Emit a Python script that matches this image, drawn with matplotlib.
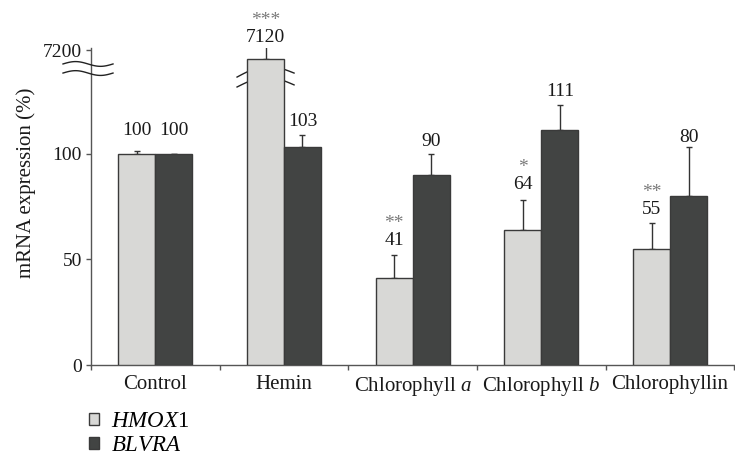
import numpy as np
import matplotlib
matplotlib.use("Agg")
import matplotlib.pyplot as plt
import matplotlib.transforms as mtransforms

plt.rcParams['font.family'] = ['Liberation Serif', 'DejaVu Serif']
plt.rcParams['mathtext.fontset'] = 'custom'
plt.rcParams['mathtext.rm'] = 'Liberation Serif'
plt.rcParams['mathtext.it'] = 'Liberation Serif:italic'

# data
groups = ["Control", "Hemin", "Chlorophyll $a$", "Chlorophyll $b$", "Chlorophyllin"]
hmox1 = [100, 7120, 41, 64, 55]
hmox1_err = [1.2, 115, 11, 14, 12]
blvra = [100, 103, 90, 111, 80]
blvra_err = [0, 6, 10, 12, 23]
stars = ["", "***", "**", "*", "**"]
yticks = [0, 50, 100, 7200]

# broken y axis: linear up to 130, squashed gap, then 7036.. on top
K = 0.055
LO, HI, FTOP = 130.0, 140.0, 149.0
V_HI = 7200 - (FTOP - HI) / K


def forward(v):
    v = np.asarray(v, dtype=float)
    mid = LO + (v - LO) * (HI - LO) / (V_HI - LO)
    hi = HI + (v - V_HI) * K
    return np.where(v <= LO, v, np.where(v <= V_HI, mid, hi))


def inverse(f):
    f = np.asarray(f, dtype=float)
    mid = LO + (f - LO) * (V_HI - LO) / (HI - LO)
    hi = V_HI + (f - HI) / K
    return np.where(f <= LO, f, np.where(f <= HI, mid, hi))


light = '#d8d8d6'
dark = '#424443'
edge = '#3a3a3a'
axcol = '#555555'

fig = plt.figure(figsize=(7.35, 4.57), dpi=100)
ax = fig.add_axes([91 / 735, 92 / 457, 643.4 / 735, 317 / 457])
ax.set_yscale('function', functions=(forward, inverse))

x = np.arange(len(groups))
w = 0.287
b1 = ax.bar(x - w / 2, hmox1, w, color=light, edgecolor=edge, linewidth=1.0,
            label='$\\mathit{HMOX}$1', zorder=3)
b2 = ax.bar(x + w / 2, blvra, w, color=dark, edgecolor=edge, linewidth=1.0,
            label='$\\mathit{BLVRA}$', zorder=3)

z = np.zeros(len(groups))
ax.errorbar(x - w / 2, hmox1, yerr=[z, hmox1_err], fmt='none', ecolor='#333333',
            elinewidth=1.0, capsize=2.2, capthick=1.0, zorder=2)
ax.errorbar(x + w / 2, blvra, yerr=[z, blvra_err], fmt='none', ecolor='#333333',
            elinewidth=1.0, capsize=2.2, capthick=1.0, zorder=2)

ax.set_xlim(-0.5, 4.5)
ax.set_ylim(0, float(inverse(149.95)))

# value labels + significance stars (gap in px above error bar top)
gaps1 = [16, 5, 10, 11, 9]
gaps2 = [19, 9, 8, 9, 5]
for i in range(len(groups)):
    top1 = min(hmox1[i] + hmox1_err[i], 7225)
    ax.annotate(str(hmox1[i]), (x[i] - w / 2, top1), xytext=(0, gaps1[i] * 0.72),
                textcoords='offset points', ha='center', va='baseline', fontsize=14,
                color='#1a1a1a', annotation_clip=False)
    if stars[i]:
        ax.annotate(stars[i], (x[i] - w / 2, top1), xytext=(0, (gaps1[i] + 17) * 0.72),
                    textcoords='offset points', ha='center', va='baseline', fontsize=14,
                    color='#7a7a7a', annotation_clip=False)
    top2 = blvra[i] + blvra_err[i]
    ax.annotate(str(blvra[i]), (x[i] + w / 2, top2), xytext=(0, gaps2[i] * 0.72),
                textcoords='offset points', ha='center', va='baseline', fontsize=14,
                color='#1a1a1a', annotation_clip=False)

for s in ['top', 'right']:
    ax.spines[s].set_visible(False)
for s in ['left', 'bottom']:
    ax.spines[s].set_color(axcol)
    ax.spines[s].set_linewidth(1.0)

ax.set_yticks(yticks)
ax.set_yticklabels([str(t) for t in yticks])
ax.yaxis.set_minor_locator(matplotlib.ticker.NullLocator())
ax.tick_params(axis='y', length=3.6, width=1.0, color=axcol, pad=3, labelsize=14,
               labelcolor='#1a1a1a')
ax.set_xticks(x)
ax.set_xticklabels(groups)
ax.set_xticks(np.arange(-0.5, 5, 1), minor=True)
ax.tick_params(axis='x', which='major', length=0, pad=7, labelsize=15, labelcolor='#1a1a1a')
ax.tick_params(axis='x', which='minor', length=3.6, width=1.0, color=axcol)

fig.text(26 / 735, 1 - 183 / 457, 'mRNA expression (%)', rotation=90, ha='center',
         va='center', fontsize=15, color='#1a1a1a')

# break marks on the axis (tilde shape)
t = np.linspace(0, 1, 60)
ytop = 149.95
for yc in [142.4, 138.1]:
    xs = -0.0435 + t * 0.0777
    ys = yc / ytop + 0.0075 * np.sin(2 * np.pi * t)
    ax.plot(xs, ys, transform=ax.transAxes, color='#222222', lw=1.0, clip_on=False, zorder=5)

# break marks across the Hemin bar (hidden behind the bar)
blend = mtransforms.blended_transform_factory(ax.transData, ax.transAxes)
xc = x[1] - w / 2
for y0, y1 in [(136.2, 138.1), (131.5, 132.5)]:
    xs = xc - 0.2215 + t * 0.443
    ys = (y0 + (y1 - y0) * t + 4.0 * np.sin(np.pi * t)) / ytop
    ax.plot(xs, ys, transform=blend, color='#222222', lw=1.0, clip_on=False, zorder=1)

ax.legend(handles=[b1, b2], loc='upper left', bbox_to_anchor=(89 / 735, 1 - 411 / 457),
          bbox_transform=fig.transFigure, frameon=False, handlelength=0.42,
          handleheight=0.42, handletextpad=0.55, labelspacing=0.12, borderpad=0,
          borderaxespad=0, fontsize=16.5)

fig.savefig('out.png', dpi=100)
